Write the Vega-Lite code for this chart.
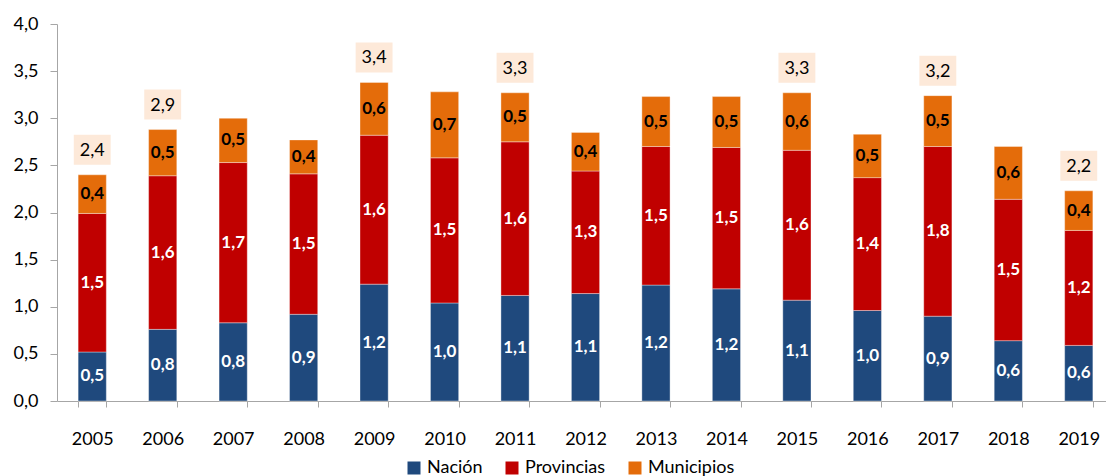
{
  "$schema": "https://vega.github.io/schema/vega-lite/v6.json",
  "width": 1049,
  "height": 377,
  "autosize": {"type": "none"},
  "padding": {"left": 57, "top": 24, "right": 0, "bottom": 75},
  "config": {
    "locale": {"number": {"decimal": ",", "thousands": ".", "grouping": [3], "currency": ["", " €"]}},
    "view": {"stroke": null},
    "font": "Lato",
    "axis": {"labelFont": "Lato", "labelFontSize": 18, "labelColor": "#000000", "domainColor": "#a6a6a6", "tickColor": "#a6a6a6", "grid": false, "title": null}
  },
  "data": {
    "values": [
      {"anio": "2005", "serie": "Nación", "valor": 0.52}, {"anio": "2005", "serie": "Provincias", "valor": 1.47}, {"anio": "2005", "serie": "Municipios", "valor": 0.41},
      {"anio": "2006", "serie": "Nación", "valor": 0.76}, {"anio": "2006", "serie": "Provincias", "valor": 1.63}, {"anio": "2006", "serie": "Municipios", "valor": 0.49},
      {"anio": "2007", "serie": "Nación", "valor": 0.83}, {"anio": "2007", "serie": "Provincias", "valor": 1.70}, {"anio": "2007", "serie": "Municipios", "valor": 0.47},
      {"anio": "2008", "serie": "Nación", "valor": 0.92}, {"anio": "2008", "serie": "Provincias", "valor": 1.49}, {"anio": "2008", "serie": "Municipios", "valor": 0.36},
      {"anio": "2009", "serie": "Nación", "valor": 1.24}, {"anio": "2009", "serie": "Provincias", "valor": 1.58}, {"anio": "2009", "serie": "Municipios", "valor": 0.56},
      {"anio": "2010", "serie": "Nación", "valor": 1.04}, {"anio": "2010", "serie": "Provincias", "valor": 1.54}, {"anio": "2010", "serie": "Municipios", "valor": 0.70},
      {"anio": "2011", "serie": "Nación", "valor": 1.12}, {"anio": "2011", "serie": "Provincias", "valor": 1.63}, {"anio": "2011", "serie": "Municipios", "valor": 0.52},
      {"anio": "2012", "serie": "Nación", "valor": 1.14}, {"anio": "2012", "serie": "Provincias", "valor": 1.30}, {"anio": "2012", "serie": "Municipios", "valor": 0.41},
      {"anio": "2013", "serie": "Nación", "valor": 1.23}, {"anio": "2013", "serie": "Provincias", "valor": 1.47}, {"anio": "2013", "serie": "Municipios", "valor": 0.53},
      {"anio": "2014", "serie": "Nación", "valor": 1.19}, {"anio": "2014", "serie": "Provincias", "valor": 1.50}, {"anio": "2014", "serie": "Municipios", "valor": 0.54},
      {"anio": "2015", "serie": "Nación", "valor": 1.07}, {"anio": "2015", "serie": "Provincias", "valor": 1.59}, {"anio": "2015", "serie": "Municipios", "valor": 0.61},
      {"anio": "2016", "serie": "Nación", "valor": 0.96}, {"anio": "2016", "serie": "Provincias", "valor": 1.41}, {"anio": "2016", "serie": "Municipios", "valor": 0.46},
      {"anio": "2017", "serie": "Nación", "valor": 0.90}, {"anio": "2017", "serie": "Provincias", "valor": 1.80}, {"anio": "2017", "serie": "Municipios", "valor": 0.54},
      {"anio": "2018", "serie": "Nación", "valor": 0.64}, {"anio": "2018", "serie": "Provincias", "valor": 1.50}, {"anio": "2018", "serie": "Municipios", "valor": 0.56},
      {"anio": "2019", "serie": "Nación", "valor": 0.59}, {"anio": "2019", "serie": "Provincias", "valor": 1.22}, {"anio": "2019", "serie": "Municipios", "valor": 0.42}
    ]
  },
  "transform": [
    {"calculate": "indexof(['Nación','Provincias','Municipios'], datum.serie)", "as": "ord"},
    {"stack": "valor", "groupby": ["anio"], "sort": [{"field": "ord", "order": "ascending"}], "as": ["v0", "v1"]},
    {"calculate": "(datum.v0 + datum.v1) / 2", "as": "mid"}
  ],
  "encoding": {
    "x": {
      "field": "anio", "type": "ordinal",
      "scale": {"range": [0, 1057], "paddingInner": 0.6, "paddingOuter": 0.3},
      "axis": {"labelAngle": 0, "tickBand": "extent", "tickSize": 6, "labelPadding": 23, "domainColor": "#a6a6a6"}
    }
  },
  "layer": [
    {
      "mark": {"type": "bar", "stroke": "#ffffff", "strokeWidth": 0.6, "strokeOpacity": 0.6},
      "encoding": {
        "y": {
          "field": "v0", "type": "quantitative",
          "scale": {"domain": [0, 4], "nice": false},
          "axis": {"values": [0, 0.5, 1, 1.5, 2, 2.5, 3, 3.5, 4], "format": ".1f", "tickSize": 7, "labelPadding": 12}
        },
        "y2": {"field": "v1"},
        "color": {
          "field": "serie", "type": "nominal",
          "scale": {"domain": ["Nación", "Provincias", "Municipios"], "range": ["#1F497D", "#C00000", "#E46C0A"]},
          "legend": {"orient": "none", "legendX": 348, "legendY": 435, "title": null, "direction": "horizontal", "symbolType": "square", "symbolSize": 169, "symbolStrokeWidth": 0, "labelFont": "Lato", "labelFontSize": 18, "labelColor": "#000000", "labelOffset": 4, "columnPadding": 20}
        }
      }
    },
    {
      "mark": {"type": "text", "font": "Lato", "fontWeight": "bold", "fontSize": 17, "baseline": "middle"},
      "encoding": {
        "y": {"field": "mid", "type": "quantitative"},
        "text": {"field": "valor", "type": "quantitative", "format": ".1f"},
        "color": {"condition": {"test": "datum.serie === 'Municipios'", "value": "#000000"}, "value": "#ffffff"}
      }
    },
    {
      "transform": [
        {"filter": {"field": "anio", "oneOf": ["2005", "2006", "2009", "2011", "2015", "2017", "2019"]}},
        {"aggregate": [{"op": "sum", "field": "valor", "as": "total"}], "groupby": ["anio"]}
      ],
      "layer": [
        {
          "mark": {"type": "point", "shape": "M-1.23,-1H1.23V1H-1.23Z", "filled": true, "size": 900, "color": "#FDE9D9", "opacity": 1, "yOffset": -25},
          "encoding": {"y": {"field": "total", "type": "quantitative"}}
        },
        {
          "mark": {"type": "text", "font": "Lato", "fontSize": 18, "color": "#000000", "baseline": "middle", "dy": -24},
          "encoding": {
            "y": {"field": "total", "type": "quantitative"},
            "text": {"field": "total", "type": "quantitative", "format": ".1f"}
          }
        }
      ]
    }
  ]
}
